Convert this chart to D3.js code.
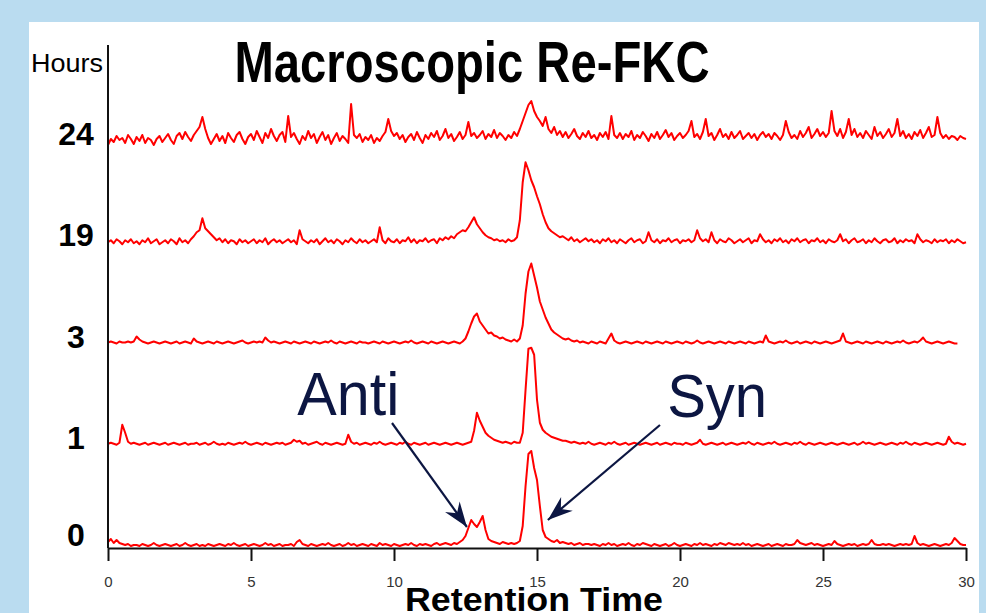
<!DOCTYPE html>
<html>
<head>
<meta charset="utf-8">
<script src="https://cdn.jsdelivr.net/npm/d3@7"></script>
<style>
  html, body { margin: 0; padding: 0; background: #badcf0; }
  svg { display: block; }
</style>
</head>
<body>
<script>
// stacked chromatograms, one row per reaction time (hours), sampled every 0.1 min
const hours = ['24', '19', '3', '1', '0']
const timeStep = 0.1
const xTicks = [0, 5, 10, 15, 20, 25, 30]

const trace24 = [
  -4, 2, -1, 5, 1, 3, -2, 6, 2, -3,
  4, 0, 6, -2, 3, 1, -4, 2, 5, -1,
  3, 7, 1, -3, 5, 8, 2, 9, 4, 0,
  6, 10, 14, 24, 12, 3, -3, 2, 7, 0,
  5, -2, 8, 3, -1, 6, 9, 2, -3, 4,
  7, 1, 10, 4, -2, 8, 3, 12, 5, 0,
  6, 9, -1, 25, 4, 8, 2, -3, 5, 1,
  10, 3, 7, -2, 4, 9, 1, 6, -3, 3,
  8, 0, 5, 2, -2, 37, 6, 3, 7, -1,
  4, 1, 6, -2, 3, 0, 5, 9, 22, 10,
  5, 8, 2, 6, -1, 4, 7, 1, 9, 3,
  -2, 6, 2, 8, 4, 10, 1, 5, 12, 3,
  7, 0, 4, 9, 2, 6, 19, 5, 8, 3,
  6, 10, 2, 7, 4, 11, 3, 8, 5, 1,
  6, 3, 9, 5, 12, 20, 28, 36, 40, 30,
  24, 20, 15, 24, 12, 8, 14, 6, 10, 4,
  9, 3, 7, 12, 5, 2, 8, 4, 10, 3,
  6, 1, 8, 4, 9, 2, 25, 6, 3, 8,
  2, 7, 4, 10, 1, 6, 3, 9, 5, 0,
  7, 3, 9, 2, 6, 11, 4, 8, 1, 5,
  8, 3, 6, 10, 20, 4, 7, 2, 9, 22,
  5, 8, 1, 6, 12, 4, 7, 2, 9, 3,
  6, 10, 2, 5, 8, 3, 7, 1, 6, 9,
  4, 7, 2, 8, 5, 1, 6, 20, 9, 3,
  6, 2, 10, 4, 8, 14, 3, 7, 12, 5,
  9, 4, 8, 30, 10, 5, 12, 3, 9, 22,
  6, 12, 4, 8, 3, 10, 6, 2, 14, 5,
  9, 3, 7, 12, 4, 8, 22, 5, 10, 3,
  7, 2, 9, 5, 11, 3, 8, 14, 4, 6,
  24, 8, 3, 6, 2, 5, 4, 1, 5, 3,
  2
]

const trace19 = [
  0, 2, -1, 3, 1, -2, 2, 0, 3, -1,
  1, -2, 2, 0, 4, -1, 1, 3, -2, 0,
  2, -1, 3, 1, -2, 4, 0, 2, -1, 3,
  6, 10, 12, 24, 14, 11, 8, 5, 2, 4,
  0, 3, -1, 2, 1, -2, 3, 0, 2, -1,
  1, 3, -1, 2, 0, 4, -2, 1, 3, 0,
  2, -1, 1, 3, 0, 2, -2, 12, 3, 1,
  -1, 2, 0, 3, -2, 1, 4, 0, 2, -1,
  3, 1, -2, 2, 0, 4, 1, -1, 3, 0,
  2, -1, 1, 3, 0, 15, 2, -1, 4, 1,
  0, 3, -1, 2, 1, 5, 0, 3, -1, 2,
  1, 4, 0, 2, 3, -1, 4, 2, 5, 3,
  6, 4, 8, 10, 12, 11, 15, 20, 25, 18,
  14, 10, 7, 5, 4, 2, 3, 1, 2, 0,
  3, 1, 2, 5, 22, 60, 80, 72, 62, 55,
  46, 38, 28, 20, 14, 11, 9, 7, 5, 6,
  4, 2, 5, 1, 3, 0, 2, 4, 1, 3,
  0, 2, -1, 3, 1, 4, 0, 2, -1, 3,
  1, -1, 2, 4, 0, 2, 3, -1, 1, 10,
  2, 0, 3, -1, 2, 1, 4, 0, 2, 3,
  -1, 2, 1, 3, 0, 2, 12, 4, 1, 3,
  0, 10, 2, -1, 3, 1, 0, 4, 2, -1,
  1, 3, 0, 2, 4, -1, 2, 1, 8, 3,
  0, 2, -1, 3, 1, 4, 0, 2, -1, 3,
  1, 4, 0, 2, 3, -1, 2, 1, 4, 0,
  2, -1, 3, 1, 0, 2, 8, 1, 3, -1,
  2, 4, 0, 1, 3, -1, 2, 0, 4, 1,
  -1, 2, 3, 0, 1, 4, -1, 2, 0, 3,
  1, 2, -1, 8, 3, 0, 2, 1, -1, 3,
  0, 2, 1, 3, -1, 2, 0, 3, 1, -1,
  0
]

const trace3 = [
  1, 2, 1, 0, 2, 1, 1, 2, 1, 2,
  7, 4, 2, 1, 0, 1, 2, 1, 0, 1,
  2, 1, 0, 1, 2, 0, 1, 2, 1, 0,
  5, 2, 1, 0, 1, 2, 1, 0, 2, 1,
  0, 1, 2, 1, 0, 1, 2, 3, 1, 0,
  1, 2, 1, 2, 1, 6, 3, 1, 2, 1,
  0, 1, 2, 1, 0, 2, 1, 0, 1, 2,
  1, 0, 2, 1, 0, 1, 2, 1, 3, 1,
  0, 2, 1, 0, 1, 2, 1, 0, 2, 1,
  1, 0, 1, 2, 1, 0, 2, 1, 0, 1,
  2, 1, 0, 1, 2, 1, 3, 1, 0, 1,
  2, 1, 0, 2, 1, 0, 1, 2, 1, 0,
  1, 2, 1, 0, 2, 5, 12, 20, 27, 30,
  22, 18, 14, 10, 11, 8, 7, 5, 6, 4,
  3, 2, 4, 2, 5, 18, 50, 72, 80, 68,
  56, 42, 34, 26, 20, 14, 11, 9, 7, 5,
  4, 5, 3, 2, 3, 1, 2, 1, 0, 2,
  1, 0, 2, 1, 0, 5, 10, 3, 1, 0,
  1, 2, 1, 0, 1, 2, 1, 0, 2, 1,
  0, 1, 2, 1, 0, 2, 1, 0, 1, 2,
  1, 0, 2, 1, 0, 1, 3, 1, 0, 1,
  2, 1, 0, 1, 2, 1, 0, 2, 1, 0,
  1, 2, 1, 0, 2, 1, 0, 1, 2, 1,
  8, 2, 1, 0, 1, 2, 1, 3, 1, 0,
  1, 2, 0, 1, 2, 1, 0, 2, 1, 0,
  1, 2, 1, 0, 1, 2, 3, 10, 2, 1,
  0, 1, 2, 1, 0, 2, 1, 0, 1, 2,
  1, 0, 2, 1, 0, 1, 2, 1, 3, 1,
  0, 1, 2, 1, 3, 6, 2, 1, 0, 1,
  2, 1, 0, 1, 2, 1, 0, 0
]

const trace1 = [
  1, 2, 1, 0, 2, 20, 12, 3, 1, 2,
  1, 0, 1, 2, 0, 1, 2, 1, 0, 1,
  2, 0, 1, 2, 1, 0, 1, 2, 0, 1,
  1, 2, 0, 1, 2, 0, 1, 3, 1, 0,
  1, 0, 2, 1, 0, 1, 2, 1, 3, 1,
  0, 1, 2, 1, 0, 2, 1, 0, 1, 2,
  1, 2, 0, 1, 2, 5, 3, 4, 1, 2,
  0, 1, 2, 3, 1, 0, 2, 1, 0, 1,
  2, 1, 0, 1, 10, 3, 1, 2, 0, 1,
  2, 1, 0, 2, 1, 3, 1, 0, 1, 2,
  1, 0, 2, 1, 3, 1, 0, 2, 1, 0,
  1, 2, 0, 1, 2, 1, 0, 1, 2, 1,
  0, 1, 2, 1, 0, 1, 2, 3, 14, 32,
  24, 18, 12, 9, 7, 5, 4, 3, 2, 3,
  2, 1, 3, 2, 2, 12, 55, 96, 97, 90,
  45, 22, 15, 12, 10, 8, 7, 6, 5, 4,
  4, 3, 2, 3, 2, 1, 2, 1, 3, 1,
  0, 1, 2, 1, 0, 2, 1, 3, 1, 0,
  1, 2, 0, 1, 2, 1, 0, 1, 2, 1,
  0, 1, 2, 0, 1, 2, 1, 0, 2, 1,
  1, 0, 2, 1, 0, 1, 2, 5, 1, 0,
  1, 2, 1, 0, 1, 2, 0, 1, 2, 1,
  0, 1, 2, 1, 3, 1, 0, 2, 1, 0,
  1, 2, 1, 3, 1, 0, 1, 2, 1, 0,
  2, 1, 3, 1, 0, 2, 1, 0, 1, 2,
  1, 0, 1, 2, 1, 0, 1, 2, 1, 0,
  1, 2, 0, 1, 3, 1, 2, 1, 0, 1,
  2, 1, 0, 1, 2, 1, 0, 2, 1, 3,
  1, 0, 2, 1, 0, 1, 2, 1, 0, 1,
  2, 1, 0, 1, 8, 3, 1, 2, 1, 0,
  1
]

const trace0 = [
  4, 7, 3, 6, 3, 2, 1, 2, 0, 1,
  1, 0, 2, 1, 0, 1, 3, 1, 0, 1,
  2, 1, 0, 1, 2, 0, 1, 3, 1, 0,
  1, 2, 0, 1, 0, 2, 1, 0, 1, 2,
  1, 0, 2, 1, 3, 1, 0, 1, 2, 0,
  1, 2, 1, 0, 1, 3, 1, 2, 0, 1,
  2, 0, 1, 1, 2, 0, 4, 6, 2, 1,
  0, 2, 1, 0, 1, 2, 1, 3, 1, 0,
  1, 2, 0, 1, 3, 1, 2, 0, 1, 2,
  1, 0, 2, 1, 0, 3, 1, 2, 1, 0,
  2, 1, 0, 1, 2, 1, 3, 1, 0, 2,
  1, 2, 1, 0, 2, 3, 1, 2, 3, 2,
  1, 3, 2, 4, 6, 10, 18, 26, 22, 19,
  24, 30, 16, 7, 5, 4, 3, 2, 4, 3,
  2, 3, 2, 3, 5, 20, 60, 92, 95, 78,
  66, 40, 16, 9, 7, 5, 4, 6, 3, 4,
  3, 2, 3, 1, 2, 3, 1, 2, 2, 1,
  2, 1, 0, 2, 1, 3, 1, 2, 0, 1,
  2, 1, 3, 1, 0, 2, 1, 3, 2, 1,
  0, 2, 1, 0, 1, 2, 0, 1, 3, 1,
  0, 1, 2, 1, 0, 2, 1, 3, 1, 2,
  1, 0, 2, 1, 3, 2, 1, 3, 2, 1,
  2, 1, 3, 1, 2, 0, 1, 2, 1, 0,
  1, 2, 0, 1, 2, 1, 0, 2, 1, 1,
  2, 6, 3, 2, 1, 2, 3, 1, 2, 1,
  0, 1, 2, 1, 5, 2, 1, 0, 1, 2,
  1, 2, 0, 1, 2, 1, 2, 6, 2, 1,
  1, 2, 1, 2, 1, 0, 1, 2, 1, 2,
  1, 2, 10, 3, 1, 2, 1, 0, 1, 2,
  1, 0, 1, 2, 1, 3, 8, 5, 2, 1,
  1
]

const traces = [trace24, trace19, trace3, trace1, trace0]

// labels pointing at peaks of the 0 h trace (time in min, height in trace units)
const annotations = [
  { label: 'Anti', textT: 6.62, textV: 131, fromT: 9.93, fromV: 123, toT: 12.55, toV: 19 },
  { label: 'Syn', textT: 19.55, textV: 129, fromT: 19.3, fromV: 121, toT: 15.38, toV: 26 }
]

const width = 986
const height = 613
const font = 'Liberation Sans, Arial, Helvetica, sans-serif'

const svg = d3.select('body')
  .append('svg')
  .attr('width', width)
  .attr('height', height)

svg.append('rect')
  .attr('width', width)
  .attr('height', height)
  .attr('fill', '#badcf0')

svg.append('rect')
  .attr('x', 29)
  .attr('y', 22)
  .attr('width', 950)
  .attr('height', height - 22)
  .attr('fill', '#ffffff')

var x = d3.scaleLinear().domain([0, 30]).range([108, 966])
var row = d3.scaleLinear().domain([0, hours.length - 1]).range([141, 546])
var amp = d3.scaleLinear().domain([0, 100]).range([0, 100])

// traces
traces.forEach((values, i) => {
  var line = d3.line()
    .x((_, j) => x(j * timeStep))
    .y(d => row(i) - amp(d))
  svg.append('path')
    .datum(values)
    .attr('d', line)
    .attr('fill', 'none')
    .attr('stroke', '#ff0000')
    .attr('stroke-width', 2)
    .attr('stroke-linejoin', 'round')
})

// y axis line (no ticks)
svg.append('line')
  .attr('x1', x(0)).attr('x2', x(0))
  .attr('y1', 45).attr('y2', 548)
  .attr('stroke', '#111')
  .attr('stroke-width', 2)

// x axis
var gx = svg.append('g')
  .attr('transform', 'translate(0,548)')
  .call(d3.axisBottom(x).tickValues(xTicks).tickSize(13).tickSizeOuter(0).tickPadding(15))
gx.select('.domain').attr('stroke', '#111').attr('stroke-width', 2)
gx.selectAll('.tick line').attr('stroke', '#111').attr('stroke-width', 2)
gx.selectAll('.tick text')
  .attr('font-family', font)
  .attr('font-size', 15)
  .attr('fill', '#333')

// row labels
svg.append('g')
  .selectAll('text')
  .data(hours)
  .join('text')
  .attr('x', 76)
  .attr('y', (_, i) => row(i) - (i === hours.length - 1 ? 11 : 7))
  .attr('dy', '0.35em')
  .attr('text-anchor', 'middle')
  .attr('font-family', font)
  .attr('font-weight', 'bold')
  .attr('font-size', 32)
  .attr('fill', '#000')
  .text(d => d)

svg.append('text')
  .attr('x', 31)
  .attr('y', 72)
  .attr('font-family', font)
  .attr('font-size', 26)
  .attr('textLength', 72)
  .attr('lengthAdjust', 'spacingAndGlyphs')
  .text('Hours')

svg.append('text')
  .attr('x', 472)
  .attr('y', 82)
  .attr('text-anchor', 'middle')
  .attr('font-family', font)
  .attr('font-weight', 'bold')
  .attr('font-size', 57)
  .attr('textLength', 475)
  .attr('lengthAdjust', 'spacingAndGlyphs')
  .text('Macroscopic Re-FKC')

svg.append('text')
  .attr('x', 405)
  .attr('y', 611)
  .attr('font-family', font)
  .attr('font-weight', 'bold')
  .attr('font-size', 33)
  .attr('textLength', 258)
  .attr('lengthAdjust', 'spacingAndGlyphs')
  .text('Retention Time')

// annotations
var navy = '#0c1642'
svg.append('defs').append('marker')
  .attr('id', 'head')
  .attr('viewBox', '-26 -11 28 22')
  .attr('refX', 0)
  .attr('refY', 0)
  .attr('markerUnits', 'userSpaceOnUse')
  .attr('markerWidth', 28)
  .attr('markerHeight', 22)
  .attr('orient', 'auto')
  .append('path')
  .attr('d', 'M0,0L-25,-9L-17,0L-25,9Z')
  .attr('fill', navy)

var base = row(hours.length - 1)
var ann = svg.append('g').selectAll('g').data(annotations).join('g')
ann.append('line')
  .attr('x1', d => x(d.fromT))
  .attr('y1', d => base - amp(d.fromV))
  .attr('x2', d => x(d.toT))
  .attr('y2', d => base - amp(d.toV))
  .attr('stroke', navy)
  .attr('stroke-width', 2.2)
  .attr('marker-end', 'url(#head)')
ann.append('text')
  .attr('x', d => x(d.textT))
  .attr('y', d => base - amp(d.textV))
  .attr('font-family', font)
  .attr('font-size', 62)
  .attr('textLength', d => d.label === 'Anti' ? 102 : 100)
  .attr('lengthAdjust', 'spacingAndGlyphs')
  .attr('fill', navy)
  .text(d => d.label)
</script>
</body>
</html>
